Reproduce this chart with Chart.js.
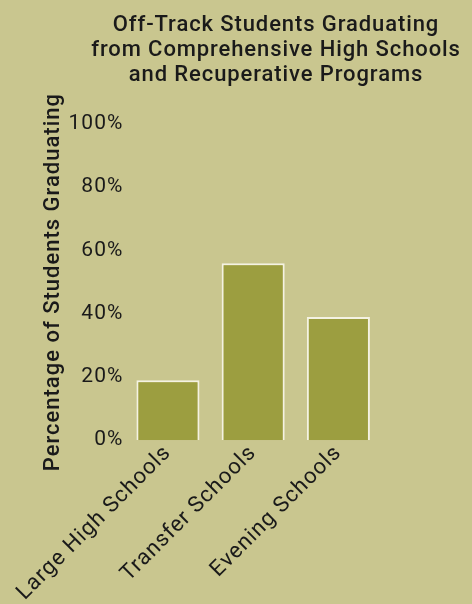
<!DOCTYPE html>
<html>
<head>
<meta charset="utf-8">
<script src="https://cdn.jsdelivr.net/npm/chart.js@4/dist/chart.umd.min.js"></script>
<style>
    html, body { margin: 0; padding: 0; overflow: hidden; background: #c9c68f; width: 472px; height: 604px; }
    #wrap { width: 472px; height: 606px; position: relative; }
    #chart-title {
        position: absolute; left: 80px; top: 11px; width: 392px;
        text-align: center; font-family: Roboto, sans-serif; font-weight: 500;
        font-size: 22px; line-height: 25px; letter-spacing: 0.9px; color: #1a1a1a;
        z-index: 2;
    }
</style>
</head>
<body>
<div id="wrap">
    <div id="chart-title"></div>
    <canvas id="gradChart"></canvas>
</div>
<script>
// Chart data
const schoolTypes = ['Large High Schools', 'Transfer Schools', 'Evening Schools'];
const gradRates = [19, 56, 39];
const titleLines = ['Off-Track Students Graduating', 'from Comprehensive High Schools', 'and Recuperative Programs'];
const yAxisTitle = 'Percentage of Students Graduating';

const textFont = 'Roboto';

// Title goes in as real text, one line each
document.getElementById('chart-title').innerHTML = titleLines.join('<br>');

// The original lettering is wider than Roboto, so space the letters out a bit
const letterSpacingPlugin = {
    id: 'letterSpacing',
    beforeLayout(chart) { chart.ctx.letterSpacing = '1px'; },
    beforeDraw(chart) { chart.ctx.letterSpacing = '1px'; }
};

const ctx = document.getElementById('gradChart').getContext('2d');

const gradChart = new Chart(ctx, {
    type: 'bar',
    data: {
        labels: schoolTypes,
        datasets: [{
            data: gradRates,
            backgroundColor: '#9c9e40',
            borderColor: '#f4f2e2',
            borderWidth: 2,
            categoryPercentage: 0.74,
            barPercentage: 1
        }]
    },
    options: {
        responsive: true,
        maintainAspectRatio: false,
        animation: false,
        layout: {
            padding: { left: 38, right: 91, top: 124, bottom: 0 }
        },
        plugins: {
            legend: { display: false },
            tooltip: { enabled: false }
        },
        scales: {
            x: {
                grid: { display: false, drawTicks: false },
                border: { display: false },
                ticks: {
                    color: '#1a1a1a',
                    font: { family: textFont, size: 22 },
                    minRotation: 45,
                    maxRotation: 45,
                    padding: 0
                }
            },
            y: {
                min: 0,
                max: 100,
                grid: { display: false, drawTicks: false },
                border: { display: false },
                ticks: {
                    stepSize: 20,
                    color: '#1a1a1a',
                    font: { family: textFont, size: 21 },
                    padding: 2,
                    callback: function (value) { return value + '%'; }
                },
                title: {
                    display: true,
                    text: yAxisTitle,
                    color: '#1a1a1a',
                    font: { family: textFont, size: 22, weight: '500' },
                    padding: { top: 2, bottom: 0 }
                }
            }
        }
    },
    plugins: [letterSpacingPlugin]
});
</script>
</body>
</html>
